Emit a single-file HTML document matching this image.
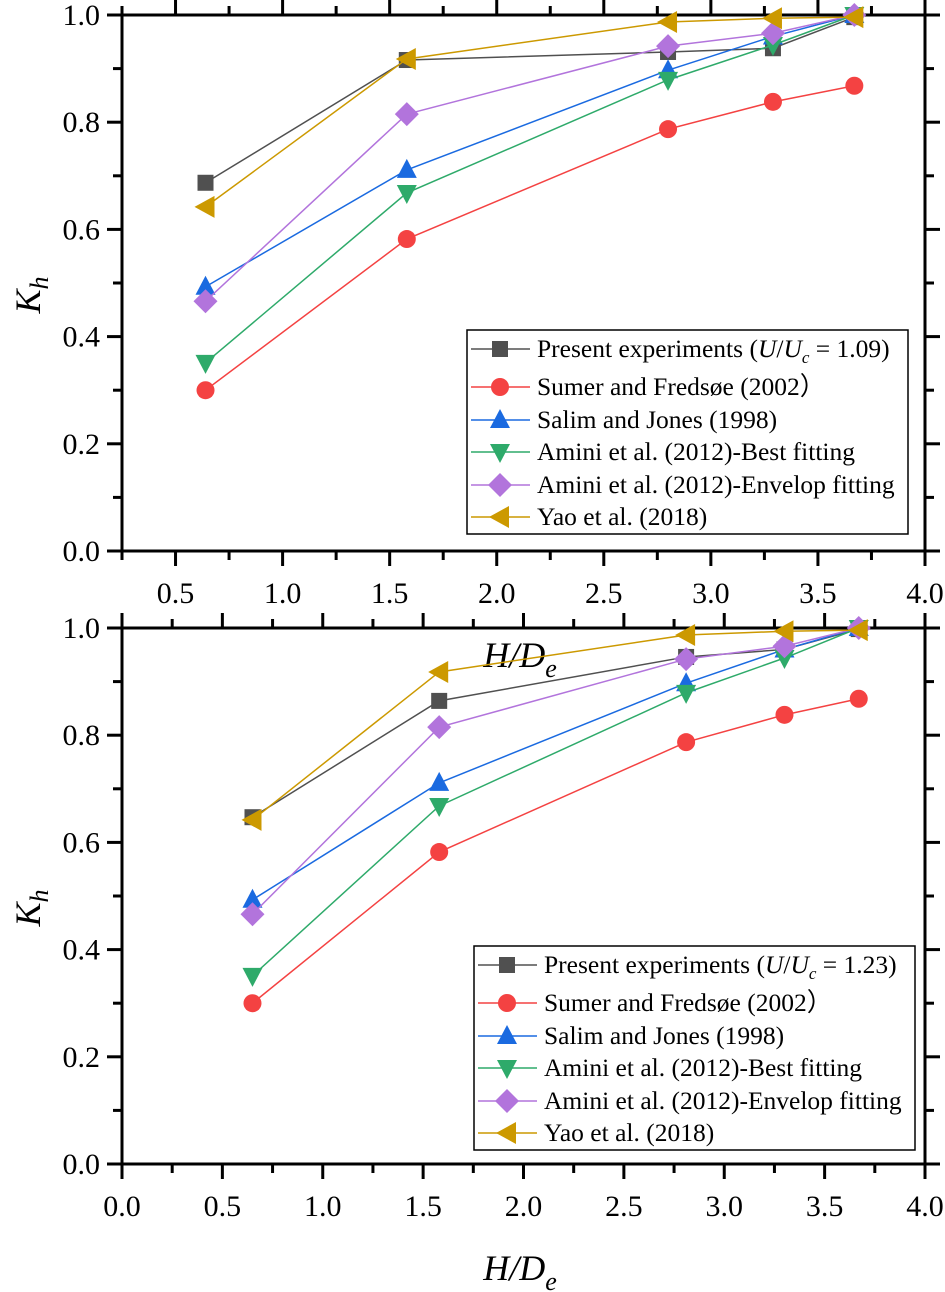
<!DOCTYPE html>
<html><head><meta charset="utf-8"><style>
html,body{margin:0;padding:0;background:#fff;}
svg{display:block;font-family:"Liberation Serif",serif;}
</style></head><body>
<svg id="chart" width="945" height="1292" viewBox="0 0 945 1292"></svg>
<script>
const xTop = [0.64, 1.58, 2.80, 3.29, 3.67];
const xBot = [0.65, 1.58, 2.81, 3.30, 3.67];
const presentTop = [0.687, 0.916, 0.931, 0.938, 0.996];
const presentBot = [0.647, 0.864, 0.946, 0.960, 0.998];
const sumer = [0.300, 0.582, 0.787, 0.838, 0.868];
const salim = [0.493, 0.711, 0.897, 0.960, 1.000];
const aminiBest = [0.351, 0.668, 0.879, 0.944, 1.000];
const aminiEnv = [0.466, 0.815, 0.942, 0.966, 1.000];
const yao = [0.642, 0.918, 0.987, 0.994, 0.996];
const yTickLabels = ["0.0","0.2","0.4","0.6","0.8","1.0"];
const xTickLabelsTop = ["0.5","1.0","1.5","2.0","2.5","3.0","3.5","4.0"];
const xTickLabelsBot = ["0.0","0.5","1.0","1.5","2.0","2.5","3.0","3.5","4.0"];
const legendLabels = ["Present experiments","Sumer and Fredsøe (2002\uFF09","Salim and Jones (1998)","Amini et al. (2012)-Best fitting","Amini et al. (2012)-Envelop fitting","Yao et al. (2018)"];

const NS="http://www.w3.org/2000/svg";
const svg=document.getElementById('chart');
function mk(tag,attrs,parent){const e=document.createElementNS(NS,tag);for(const k in attrs)e.setAttribute(k,attrs[k]);(parent||svg).appendChild(e);return e;}

function marker(g,type,cx,cy,color){
  let e;
  if(type==='square'){e=mk('rect',{x:cx-8,y:cy-8,width:16,height:16,fill:color},g);}
  else if(type==='circle'){e=mk('circle',{cx:cx,cy:cy,r:9,fill:color},g);}
  else if(type==='up'){e=mk('polygon',{points:`${cx},${cy-11} ${cx+10},${cy+8} ${cx-10},${cy+8}`,fill:color},g);}
  else if(type==='down'){e=mk('polygon',{points:`${cx},${cy+11} ${cx+10},${cy-8} ${cx-10},${cy-8}`,fill:color},g);}
  else if(type==='diamond'){e=mk('polygon',{points:`${cx},${cy-12} ${cx+12},${cy} ${cx},${cy+12} ${cx-12},${cy}`,fill:color},g);}
  else {e=mk('polygon',{points:`${cx-11},${cy} ${cx+9},${cy-11} ${cx+9},${cy+11}`,fill:color},g);}
  return e;
}

function panel(p){
  const L=122,R=925,T=p.top,B=p.top+536;
  const sx=v=>L+(v-p.xmin)/(4-p.xmin)*(R-L);
  const sy=v=>B-v*(B-T);
  const g=mk('g',{});
  
  
  const fr=mk('rect',{x:L,y:T,width:R-L,height:B-T,fill:'none',stroke:'#000','stroke-width':3},g);
  
  
  for(let v=p.xmin; v<=4.0001; v+=0.25){
    const x=sx(v); const major=Math.abs(v*2-Math.round(v*2))<1e-6;
    const len=major?15:9;
    mk('line',{x1:x,y1:B,x2:x,y2:B+len,stroke:'#000','stroke-width':3},g);
    mk('line',{x1:x,y1:T,x2:x,y2:T-len,stroke:'#000','stroke-width':3},g);
  }
  p.xlabels.forEach(s=>{const v=parseFloat(s);
    const t=mk('text',{x:sx(v),y:B+52,'font-size':30,'text-anchor':'middle'},g);t.textContent=s;
    
    
  });
  for(let i=0;i<=10;i++){
    const v=i/10,y=sy(v),len=i%2==0?15:9;
    mk('line',{x1:L,y1:y,x2:L-len,y2:y,stroke:'#000','stroke-width':3},g);
    mk('line',{x1:R,y1:y,x2:R+len,y2:y,stroke:'#000','stroke-width':3},g);
  }
  yTickLabels.forEach(s=>{const v=parseFloat(s);
    const t=mk('text',{x:100,y:sy(v)+10,'font-size':30,'text-anchor':'end'},g);t.textContent=s;
    
    
  });
  const yt=mk('text',{transform:`translate(40,${(T+B)/2+12}) rotate(-90)`,'font-size':36,'font-style':'italic','text-anchor':'middle'},g);
  yt.innerHTML='K<tspan font-size="26" dy="8">h</tspan>';
  
  
  const xt=mk('text',{x:p.xtx,y:p.xty,'font-size':36,'font-style':'italic','text-anchor':'middle'},g);
  xt.innerHTML='H/D<tspan font-size="26" dy="10">e</tspan>';
  
  
  const series=[
    {d:p.present,c:'#505050',m:'square',n:'series-present'},
    {d:sumer,c:'#f44242',m:'circle',n:'series-sumer'},
    {d:salim,c:'#1a6ae0',m:'up',n:'series-salim'},
    {d:aminiBest,c:'#2eaa6a',m:'down',n:'series-amini-best'},
    {d:aminiEnv,c:'#b274dc',m:'diamond',n:'series-amini-envelop'},
    {d:yao,c:'#cc9900',m:'left',n:'series-yao'}
  ];
  series.forEach(s=>{
    const sg=mk('g',{},g);
    
    
    const pts=s.d.map((v,i)=>`${sx(p.xs[i])},${sy(v)}`).join(' ');
    mk('polyline',{points:pts,fill:'none',stroke:s.c,'stroke-width':1.5},sg);
    s.d.forEach((v,i)=>{const m=marker(sg,s.m,sx(p.xs[i]),sy(v),s.c);
      
      });
  });
  const lg=mk('g',{},g);
  
  
  const lx=p.lx, ly=p.ly;
  mk('rect',{x:lx,y:ly,width:441,height:204,fill:'#fff',stroke:'#000','stroke-width':1.5},lg);
  const rows=[19,57,90,122,155,187];
  series.forEach((s,i)=>{
    const y=ly+rows[i];
    const eg=mk('g',{},lg);
    
    
    mk('line',{x1:lx+4,y1:y,x2:lx+63,y2:y,stroke:s.c,'stroke-width':1.5},eg);
    marker(eg,s.m,lx+33,y,s.c);
    const t=mk('text',{x:lx+70,y:y+8,'font-size':25.5},eg);
    if(i===0){t.innerHTML=legendLabels[0]+' (<tspan font-style="italic">U</tspan>/<tspan font-style="italic">U</tspan><tspan font-style="italic" font-size="17" dy="6">c</tspan><tspan dy="-6"> = '+p.ratio+')</tspan>';}
    else t.textContent=legendLabels[i];
  });
}
panel({name:'top-panel',top:15,xmin:0.25,xs:xTop,present:presentTop,xlabels:xTickLabelsTop,lx:467,ly:330,ratio:'1.09',xtx:520,xty:667});
panel({name:'bottom-panel',top:628,xmin:0,xs:xBot,present:presentBot,xlabels:xTickLabelsBot,lx:474,ly:946,ratio:'1.23',xtx:520,xty:1280});
</script>
</body></html>
